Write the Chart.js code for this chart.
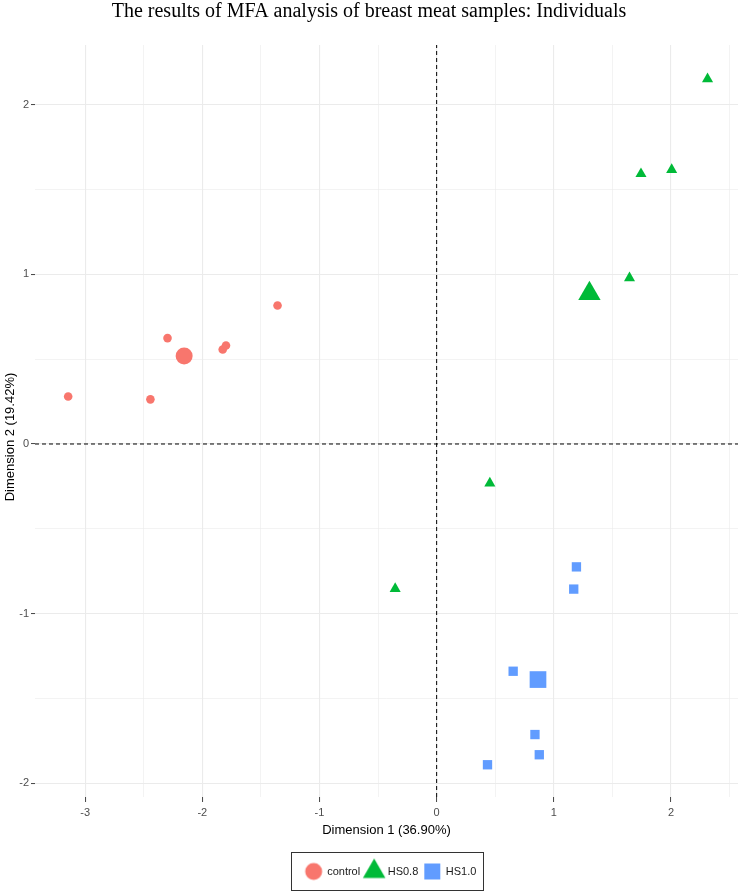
<!DOCTYPE html>
<html><head><meta charset="utf-8">
<script src="https://cdn.jsdelivr.net/npm/chart.js@4.4.1/dist/chart.umd.min.js"></script>
<style>html,body{margin:0;padding:0;background:#fff;overflow:hidden}canvas{display:block}</style>
</head><body>
<canvas id="c" width="738" height="891"></canvas>
<script>
const chartTitle = 'The results of MFA analysis of breast meat samples: Individuals';
const xAxisTitle = 'Dimension 1 (36.90%)';
const yAxisTitle = 'Dimension 2 (19.42%)';
const groupNames = ['control', 'HS0.8', 'HS1.0'];
const groupColors = ['#F8766D', '#00BA38', '#619CFF'];
const groupShapes = ['circle', 'triangle', 'rect'];

const controlX = [-3.145, -2.443, -2.297, -1.826, -1.798, -1.358];
const controlY = [0.280, 0.263, 0.624, 0.557, 0.580, 0.816];
const hs08X = [2.312, 1.744, 2.006, 1.646, 0.454, -0.354];
const hs08Y = [2.151, 1.592, 1.616, 0.978, -0.231, -0.853];
const hs10X = [1.193, 1.170, 0.653, 0.839, 0.876, 0.434];
const hs10Y = [-0.724, -0.855, -1.339, -1.712, -1.831, -1.890];
const meanX = [-2.155, 1.304, 0.865];
const meanY = [0.519, 0.886, -1.388];

const xTickValues = [-3, -2.5, -2, -1.5, -1, -0.5, 0, 0.5, 1, 1.5, 2, 2.5];
const xTickLabels = ['-3', '', '-2', '', '-1', '', '0', '', '1', '', '2', ''];
const yTickValues = [-2, -1.5, -1, -0.5, 0, 0.5, 1, 1.5, 2];
const yTickLabels = ['-2', '', '-1', '', '0', '', '1', '', '2'];
const xRange = [-3.428, 2.572];
const yRange = [-2.08, 2.351];

const pts = (xs, ys) => xs.map((x, i) => ({x: x, y: ys[i]}));
const groupX = [controlX, hs08X, hs10X];
const groupY = [controlY, hs08Y, hs10Y];
const smallR = [4.3, 6.4, 6.6];
const bigR = [8.5, 12.9, 11.8];

const datasets = [];
datasets.push({type: 'scatter', data: [{x: 0, y: yRange[0]}, {x: 0, y: yRange[1]}], showLine: true,
  borderColor: '#000', borderWidth: 1, borderDash: [4, 3], pointRadius: 0, order: 10});
datasets.push({type: 'scatter', data: [{x: xRange[0], y: 0}, {x: xRange[1], y: 0}], showLine: true,
  borderColor: '#000', borderWidth: 1, borderDash: [4, 3], pointRadius: 0, order: 10});
for (let g = 0; g < 3; g++) {
  datasets.push({label: groupNames[g], data: pts(groupX[g], groupY[g]), pointStyle: groupShapes[g],
    pointRadius: smallR[g], backgroundColor: groupColors[g], borderColor: groupColors[g],
    pointBorderWidth: 0, borderWidth: 0, order: 1});
  datasets.push({label: groupNames[g] + ' mean', data: [{x: meanX[g], y: meanY[g]}], pointStyle: groupShapes[g],
    pointRadius: bigR[g], backgroundColor: groupColors[g], borderColor: groupColors[g],
    pointBorderWidth: 0, borderWidth: 0, order: 1});
}

const keyRadius = [8.5, 13, 11.3];
function makeKey(g) {
  const c = document.createElement('canvas');
  c.width = 40; c.height = 30;
  const ctx = c.getContext('2d');
  ctx.fillStyle = groupColors[g];
  ctx.strokeStyle = groupColors[g];
  Chart.helpers.drawPoint(ctx, {pointStyle: groupShapes[g], radius: keyRadius[g], borderWidth: 0, rotation: 0}, 18, 15);
  return c;
}
const keys = [0, 1, 2].map(makeKey);

const LEG_SHIFT = 6.5;
const legendFrame = {
  id: 'legendFrame',
  afterLayout(chart) {
    const lg = chart.legend;
    if (!lg) return;
    lg.left = chart.chartArea.left + LEG_SHIFT;
    lg.right = chart.chartArea.right + LEG_SHIFT;
    lg.width = lg.right - lg.left;
  },
  afterDraw(chart) {
    const lg = chart.legend;
    const ctx = chart.ctx;
    if (lg && lg.lineWidths) {
      const pad = lg.options.labels.padding;
      const lw = lg.lineWidths[0];
      const x0 = (lg.left + pad + lg.right - lw) / 2;
      const cy = lg.top + pad + 11 / 2;
      ctx.save();
      ctx.strokeStyle = '#333';
      ctx.lineWidth = 1;
      const l = Math.round(x0 - 19), r = Math.round(x0 + lw - pad + 7);
      ctx.strokeRect(l + 0.5, Math.round(cy - 19.2) + 0.5, r - l, 38);
      ctx.restore();
    }
    // y axis title
    const ca = chart.chartArea;
    ctx.save();
    ctx.translate(10, (ca.top + ca.bottom) / 2 + 16);
    ctx.rotate(-Math.PI / 2);
    ctx.fillStyle = '#000';
    ctx.font = '13px "Liberation Sans", Arial, sans-serif';
    ctx.textAlign = 'center';
    ctx.textBaseline = 'middle';
    ctx.fillText(yAxisTitle, 0, 0);
    ctx.restore();
  }
};

const gridColor = '#EBEBEB';
const chart = new Chart(document.getElementById('c'), {
  type: 'scatter',
  data: {datasets: datasets},
  options: {
    responsive: false,
    animation: false,
    devicePixelRatio: 1,
    events: [],
    layout: {autoPadding: false, padding: {left: 0, right: 0, top: 0, bottom: 4}},
    plugins: {
      title: {display: true, text: chartTitle, color: '#000',
        font: {family: '"Liberation Serif", "Times New Roman", serif', size: 20, weight: 'normal'},
        padding: {top: 0, bottom: 21}},
      legend: {
        display: true, position: 'bottom',
        labels: {
          usePointStyle: true, pointStyleWidth: 12, padding: 10, color: '#1a1a1a',
          font: {family: '"Liberation Sans", Arial, sans-serif', size: 11},
          generateLabels: () => groupNames.map((n, g) => ({
            text: n, pointStyle: keys[g], fillStyle: groupColors[g], strokeStyle: groupColors[g],
            lineWidth: 0, hidden: false, datasetIndex: 2 + g * 2, fontColor: '#1a1a1a'
          }))
        }
      },
      tooltip: {enabled: false}
    },
    scales: {
      x: {
        type: 'linear', position: 'bottom', min: xRange[0], max: xRange[1],
        afterBuildTicks: s => { s.ticks = xTickValues.map(v => ({value: v})); },
        afterFit: s => { s.height = 59; s.paddingLeft = 0; s.paddingRight = 0; },
        border: {display: false},
        grid: {
          color: gridColor,
          lineWidth: c => (xTickLabels[c.index] ? 1.1 : 0.6),
          drawTicks: true, tickLength: 5, tickWidth: 1,
          tickColor: c => (xTickLabels[c.index] ? '#444' : 'rgba(0,0,0,0)')
        },
        ticks: {autoSkip: false, maxRotation: 0, padding: 4, color: '#4D4D4D',
          font: {family: '"Liberation Sans", Arial, sans-serif', size: 11},
          callback: (v, i) => xTickLabels[i]},
        title: {display: true, text: xAxisTitle, color: '#000',
          font: {family: '"Liberation Sans", Arial, sans-serif', size: 13},
          padding: {top: 0, bottom: 18}}
      },
      y: {
        type: 'linear', position: 'left', min: yRange[0], max: yRange[1],
        afterBuildTicks: s => { s.ticks = yTickValues.map(v => ({value: v})); },
        afterFit: s => { s.width = 35; s.paddingTop = 0; s.paddingBottom = 0; },
        border: {display: false},
        grid: {
          color: gridColor,
          lineWidth: c => (yTickLabels[c.index] ? 1.1 : 0.6),
          drawTicks: true, tickLength: 4, tickWidth: 1,
          tickColor: c => (yTickLabels[c.index] ? '#444' : 'rgba(0,0,0,0)')
        },
        ticks: {autoSkip: false, padding: 2, color: '#4D4D4D',
          font: {family: '"Liberation Sans", Arial, sans-serif', size: 11},
          callback: (v, i) => yTickLabels[i]},
        title: {display: false}
      }
    }
  },
  plugins: [legendFrame]
});
</script>
</body></html>
